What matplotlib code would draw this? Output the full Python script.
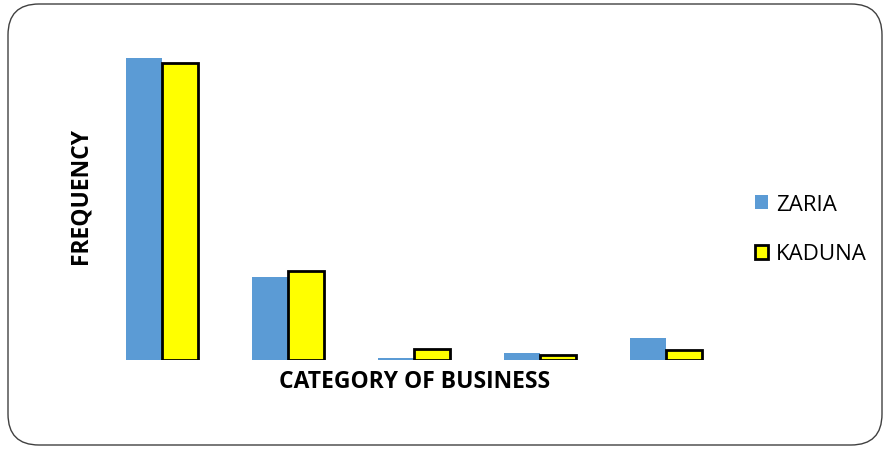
import numpy as np
import matplotlib.pyplot as plt
from matplotlib.patches import FancyBboxPatch, Patch

# Valores (frecuencia por categoría de negocio)
categorias = ["1", "2", "3", "4", "5"]
zaria = [151, 41.5, 1, 3.5, 11]
kaduna = [148.5, 44.5, 5.5, 2.5, 5]

fig = plt.figure(figsize=(8.85, 4.52), dpi=100)

# Marco redondeado alrededor del gráfico
marco = FancyBboxPatch((8 / 885, 6 / 452), 874 / 885, 441 / 452,
                       boxstyle="round,pad=0,rounding_size=0.035",
                       transform=fig.transFigure, facecolor="none",
                       edgecolor="#404040", linewidth=1.0, mutation_aspect=885 / 452,
                       zorder=-1)
fig.patches.append(marco)

ax = fig.add_axes([99 / 885, 1 - 361 / 452, 630 / 885, 315 / 452])
x = np.arange(len(categorias))
ancho = 0.286
ax.bar(x - ancho / 2, zaria, ancho, color="#5B9BD5", label="ZARIA")
ax.bar(x + ancho / 2, kaduna, ancho, color="#FFFF00", edgecolor="black",
       linewidth=2, label="KADUNA")

ax.set_xlim(-0.5, len(categorias) - 0.5)
ax.set_ylim(0, 157.5)
ax.axis("off")

fig.text(415 / 885, 1 - 382 / 452, "CATEGORY OF BUSINESS", ha="center", va="center",
         fontsize=16.5, fontweight="bold", family="Open Sans")
fig.text(80 / 885, 1 - 196 / 452, "FREQUENCY", ha="center", va="center", rotation=90,
         fontsize=16.5, fontweight="bold", family="Open Sans")

manijas = [Patch(facecolor="#5B9BD5", edgecolor="none"),
           Patch(facecolor="#FFFF00", edgecolor="black", linewidth=2)]
fig.legend(manijas, ["ZARIA", "KADUNA"], loc="center left",
           bbox_to_anchor=(735 / 885, 1 - 230 / 452), frameon=False,
           prop={"family": "Open Sans", "size": 16}, handlelength=0.6,
           handleheight=0.6, handletextpad=0.35, labelspacing=1.3)

fig.savefig("out.png", dpi=100)
